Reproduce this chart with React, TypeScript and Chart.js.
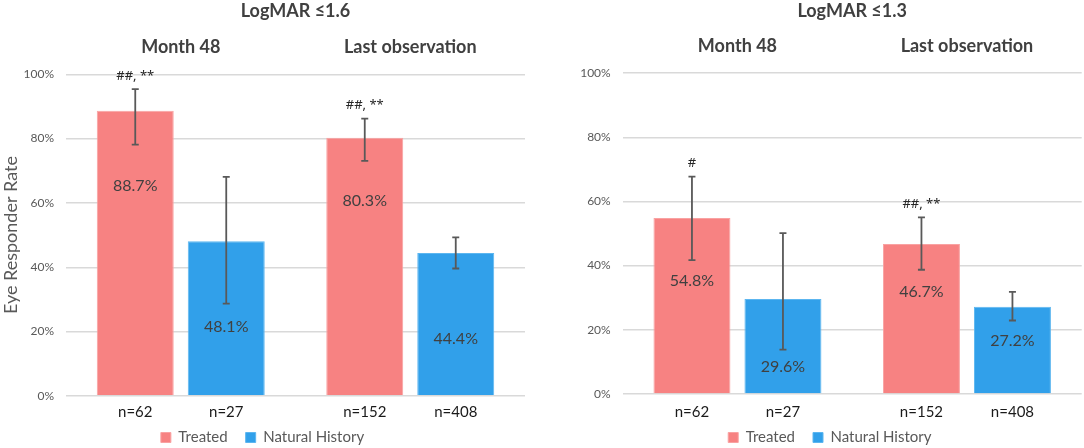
import { useEffect, useRef } from "react";
import { Chart, registerables } from "chart.js";
Chart.register(...registerables);

const groups = ["Month 48", "Last observation"];
const seriesNames = ["Treated", "Natural History"];

// LogMAR ≤1.6
const treated16 = [88.7, 80.3];
const treated16Lo = [78.1, 73.1];
const treated16Hi = [95.4, 86.2];
const natural16 = [48.1, 44.4];
const natural16Lo = [28.7, 39.6];
const natural16Hi = [68.1, 49.3];
const treated16N = ["n=62", "n=152"];
const natural16N = ["n=27", "n=408"];
const treated16Sig = ["##, **", "##, **"];
const natural16Sig = ["", ""];

// LogMAR ≤1.3
const treated13 = [54.8, 46.7];
const treated13Lo = [41.7, 38.7];
const treated13Hi = [67.7, 55.0];
const natural13 = [29.6, 27.2];
const natural13Lo = [13.8, 22.9];
const natural13Hi = [50.1, 31.8];
const treated13N = ["n=62", "n=152"];
const natural13N = ["n=27", "n=408"];
const treated13Sig = ["#", "##, **"];
const natural13Sig = ["", ""];

const RED = "#F78282";
const BLUE = "#31A0EA";
const FONT = "Lato";

// where the value text sits inside each bar (in axis units)
const labelAt16 = { treated: [65.4, 60.7], natural: [21.4, 17.6] };
const labelAt13 = { treated: [35.2, 31.9], natural: [8.6, 16.7] };

interface PanelProps {
  title: string;
  treated: number[];
  treatedLo: number[];
  treatedHi: number[];
  natural: number[];
  naturalLo: number[];
  naturalHi: number[];
  treatedN: string[];
  naturalN: string[];
  treatedSig: string[];
  naturalSig: string[];
  labelAt: { treated: number[]; natural: number[] };
  yTitle?: string;
  left: number;
  width: number;
  padLeft: number;
  padRight: number;
  yWidth: number;
  topH: number;
  bottomH: number;
}

const makeOverlay = (title: string) => ({
  id: "overlay",
  afterDatasetsDraw(chart: any) {
    const ctx = chart.ctx;
    const y = chart.scales.y;
    const area = chart.chartArea;
    chart.data.datasets.forEach((ds: any, di: number) => {
      const meta = chart.getDatasetMeta(di);
      meta.data.forEach((bar: any, i: number) => {
        const x = bar.x;
        const top = y.getPixelForValue(ds.hi[i]);
        const bot = y.getPixelForValue(ds.lo[i]);
        ctx.save();
        ctx.strokeStyle = "#595959";
        ctx.lineWidth = 1.8;
        ctx.beginPath();
        ctx.moveTo(x, top);
        ctx.lineTo(x, bot);
        ctx.moveTo(x - 3.5, top);
        ctx.lineTo(x + 3.5, top);
        ctx.moveTo(x - 3.5, bot);
        ctx.lineTo(x + 3.5, bot);
        ctx.stroke();

        ctx.textAlign = "center";
        ctx.textBaseline = "middle";
        ctx.fillStyle = "#404040";
        ctx.font = `16px ${FONT}`;
        ctx.fillText(ds.data[i].toFixed(1) + "%", x, y.getPixelForValue(ds.labelAt[i]));

        if (ds.sig[i]) {
          ctx.fillStyle = "#262626";
          ctx.font = `13px "Noto Sans"`;
          ctx.fillText(ds.sig[i], x, top - 13);
        }

        ctx.fillStyle = "#1a1a1a";
        ctx.font = `15px ${FONT}`;
        ctx.fillText(ds.n[i], x, chart.height - 36);
        ctx.restore();
      });
    });
    ctx.save();
    ctx.textAlign = "center";
    ctx.textBaseline = "middle";
    ctx.fillStyle = "#404040";
    ctx.font = `bold 18px ${FONT}`;
    ctx.fillText(title, (area.left + area.right) / 2, 11);
    ctx.restore();
  },
});

const Panel = (p: PanelProps) => {
  const chartRef = useRef<HTMLCanvasElement | null>(null);

  useEffect(() => {
    if (!chartRef.current) return;
    const ctx = chartRef.current.getContext("2d");
    if (!ctx) return;
    const chart = new Chart(ctx, {
      type: "bar",
      data: {
        labels: groups,
        datasets: [
          {
            label: seriesNames[0],
            data: p.treated,
            lo: p.treatedLo,
            hi: p.treatedHi,
            n: p.treatedN,
            sig: p.treatedSig,
            labelAt: p.labelAt.treated,
            backgroundColor: RED,
            borderColor: "#F9A2A2",
            borderWidth: 1,
            xAxisID: "x",
            categoryPercentage: 0.793,
            barPercentage: 0.846,
          } as any,
          {
            label: seriesNames[1],
            data: p.natural,
            lo: p.naturalLo,
            hi: p.naturalHi,
            n: p.naturalN,
            sig: p.naturalSig,
            labelAt: p.labelAt.natural,
            backgroundColor: BLUE,
            borderColor: "#5CB6F0",
            borderWidth: 1,
            xAxisID: "x",
            categoryPercentage: 0.793,
            barPercentage: 0.846,
          } as any,
        ],
      },
      options: {
        animation: false,
        responsive: true,
        maintainAspectRatio: false,
        layout: { padding: { left: p.padLeft, right: p.padRight, top: 0, bottom: 0 } },
        scales: {
          x: {
            type: "category",
            position: "bottom",
            grid: { display: false, drawTicks: false },
            border: { display: false },
            ticks: { display: false },
            afterFit: (s: any) => {
              s.height = p.bottomH;
            },
          },
          xTop: {
            type: "category",
            position: "top",
            grid: { display: false, drawTicks: false },
            border: { display: false },
            ticks: {
              padding: 16.5,
              color: "#404040",
              font: { family: FONT, size: 18, weight: "bold" },
            },
            afterFit: (s: any) => {
              s.height = p.topH;
            },
          },
          y: {
            min: 0,
            max: 100,
            grid: { color: "#D9D9D9", lineWidth: 1.4, drawTicks: false },
            border: { display: false },
            ticks: {
              stepSize: 20,
              padding: 12,
              color: "#595959",
              font: { family: FONT, size: 12 },
              callback: (v: any) => v + "%",
            },
            title: {
              display: !!p.yTitle,
              text: p.yTitle || "",
              color: "#595959",
              padding: 0,
              font: { family: FONT, size: 18 },
            },
            afterFit: (s: any) => {
              s.width = p.yWidth;
            },
          },
        },
        plugins: {
          legend: {
            position: "bottom",
            maxHeight: 36,
            labels: {
              boxWidth: 10,
              boxHeight: 10,
              padding: 18,
              color: "#595959",
              font: { family: FONT, size: 15 },
            },
          },
          tooltip: { enabled: false },
        },
      } as any,
      plugins: [makeOverlay(p.title)],
    });

    return () => chart.destroy();
  }, [p]);

  return (
    <div
      style={{
        position: "absolute",
        left: p.left,
        top: 0,
        width: p.width,
        height: 448,
      }}
    >
      <canvas ref={chartRef}></canvas>
    </div>
  );
};

const left16 = {
  title: "LogMAR ≤1.6",
  treated: treated16,
  treatedLo: treated16Lo,
  treatedHi: treated16Hi,
  natural: natural16,
  naturalLo: natural16Lo,
  naturalHi: natural16Hi,
  treatedN: treated16N,
  naturalN: natural16N,
  treatedSig: treated16Sig,
  naturalSig: natural16Sig,
  labelAt: labelAt16,
  yTitle: "Eye Responder Rate",
  left: 0,
  width: 554,
  padLeft: 0,
  padRight: 29,
  yWidth: 66,
  topH: 74.3,
  bottomH: 16.2,
};

const right13 = {
  title: "LogMAR ≤1.3",
  treated: treated13,
  treatedLo: treated13Lo,
  treatedHi: treated13Hi,
  natural: natural13,
  naturalLo: natural13Lo,
  naturalHi: natural13Hi,
  treatedN: treated13N,
  naturalN: natural13N,
  treatedSig: treated13Sig,
  naturalSig: natural13Sig,
  labelAt: labelAt13,
  left: 578,
  width: 506,
  padLeft: 0,
  padRight: 2.3,
  yWidth: 44.7,
  topH: 73,
  bottomH: 18,
};

const App = () => (
  <div
    style={{
      position: "absolute",
      left: 0,
      top: 0,
      width: 1084,
      height: 448,
      background: "#fff",
    }}
  >
    <Panel {...left16} />
    <Panel {...right13} />
  </div>
);

export default App;
